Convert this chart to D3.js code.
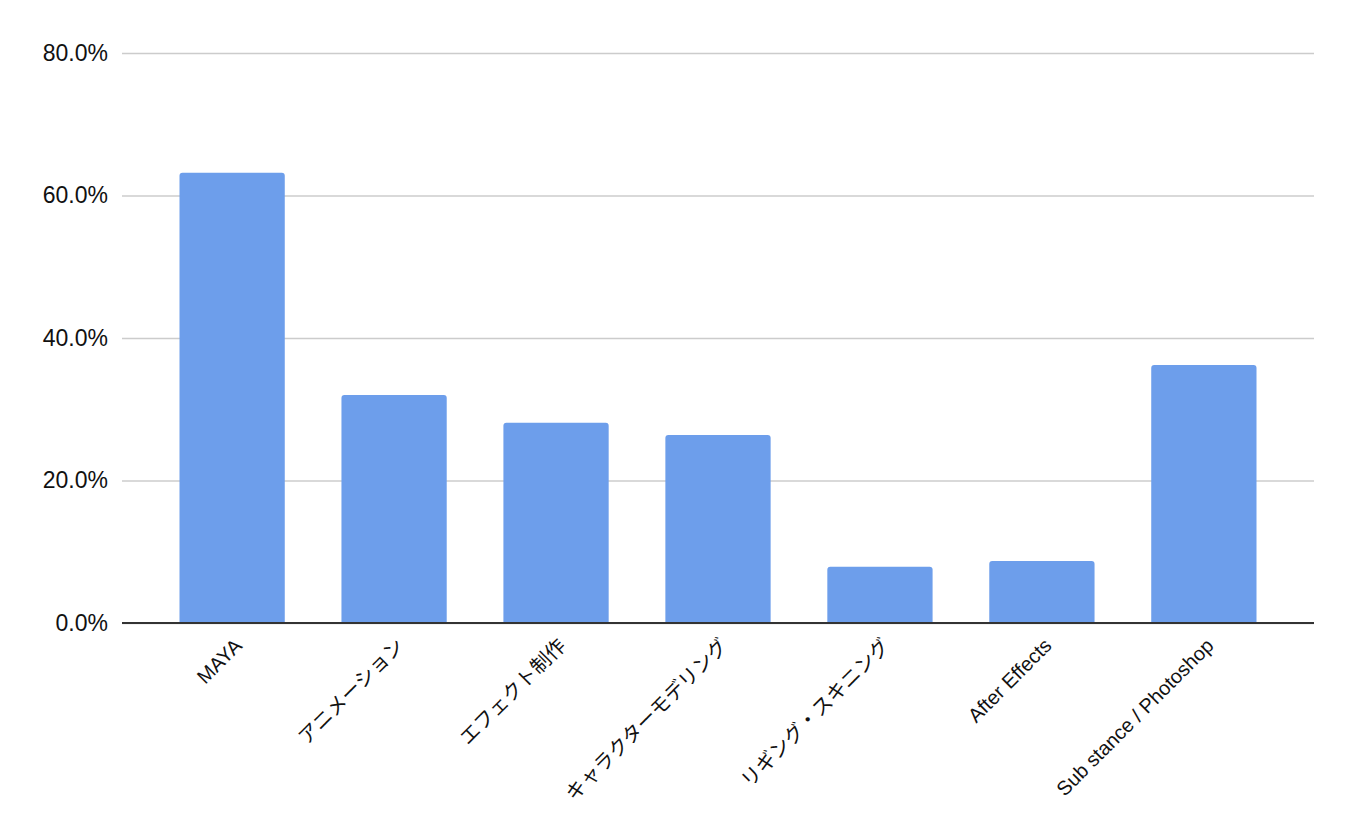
<!DOCTYPE html>
<html>
<head>
<meta charset="utf-8">
<script src="https://cdn.jsdelivr.net/npm/d3@7"></script>
<style>
  body { margin: 0; background: #fff; }
  text { font-family: "Liberation Sans", Arial, "Noto Sans CJK JP", sans-serif; }
</style>
</head>
<body>
<svg class="chart" width="1356" height="838"></svg>
<script>
const categories = ["MAYA", "アニメーション", "エフェクト制作", "キャラクターモデリング", "リギング・スキニング", "After Effects", "Sub stance / Photoshop"];
const values = [63.2, 32.0, 28.1, 26.4, 7.9, 8.7, 36.2];
const yTicks = [0, 20, 40, 60, 80];

const width = 1356;
const height = 838;
const margin = { top: 53, right: 42, bottom: 215, left: 122 };
const graphWidth = width - margin.left - margin.right;
const graphHeight = height - margin.top - margin.bottom;

const svg = d3.select(".chart");
const graph = svg.append("g")
  .attr("transform", `translate(${margin.left}, ${margin.top})`);

const xScale = d3.scaleBand()
  .domain(categories)
  .range([0, graphWidth])
  .paddingInner(0.35)
  .paddingOuter(0.355);

const yScale = d3.scaleLinear()
  .domain([0, 80])
  .range([graphHeight, 0]);

// gridlines + y labels
const yAxis = d3.axisLeft(yScale)
  .tickValues(yTicks)
  .tickSize(-graphWidth)
  .tickPadding(14)
  .tickFormat(d => d.toFixed(1) + "%");

const yAxisG = graph.append("g").call(yAxis);
yAxisG.select(".domain").remove();
yAxisG.selectAll(".tick line")
  .attr("stroke", "#cccccc")
  .attr("stroke-width", 1.5);
yAxisG.selectAll(".tick text")
  .attr("fill", "#111")
  .style("font-size", "23px");

// bars with rounded top corners
const r = 3;
graph.selectAll(".bar")
  .data(categories)
  .enter()
  .append("path")
  .attr("class", "bar")
  .attr("fill", "#6d9eeb")
  .attr("d", (d, i) => {
    const x0 = xScale(d);
    const x1 = x0 + xScale.bandwidth();
    const y0 = yScale(0);
    const y1 = yScale(values[i]);
    return `M${x0},${y0}V${y1 + r}Q${x0},${y1} ${x0 + r},${y1}H${x1 - r}Q${x1},${y1} ${x1},${y1 + r}V${y0}Z`;
  });

// baseline
graph.append("line")
  .attr("x1", 0)
  .attr("x2", graphWidth)
  .attr("y1", yScale(0))
  .attr("y2", yScale(0))
  .attr("stroke", "#333")
  .attr("stroke-width", 2);

// x labels
const xAxis = d3.axisBottom(xScale).tickSize(0).tickPadding(0);
const xAxisG = graph.append("g")
  .attr("transform", `translate(0, ${graphHeight})`)
  .call(xAxis);
xAxisG.select(".domain").remove();
xAxisG.selectAll(".tick text")
  .attr("fill", "#111")
  .style("font-size", "20px")
  .attr("text-anchor", "end")
  .attr("dy", null)
  .attr("y", 0)
  .attr("transform", "translate(11, 24) rotate(-45)");
</script>
</body>
</html>
